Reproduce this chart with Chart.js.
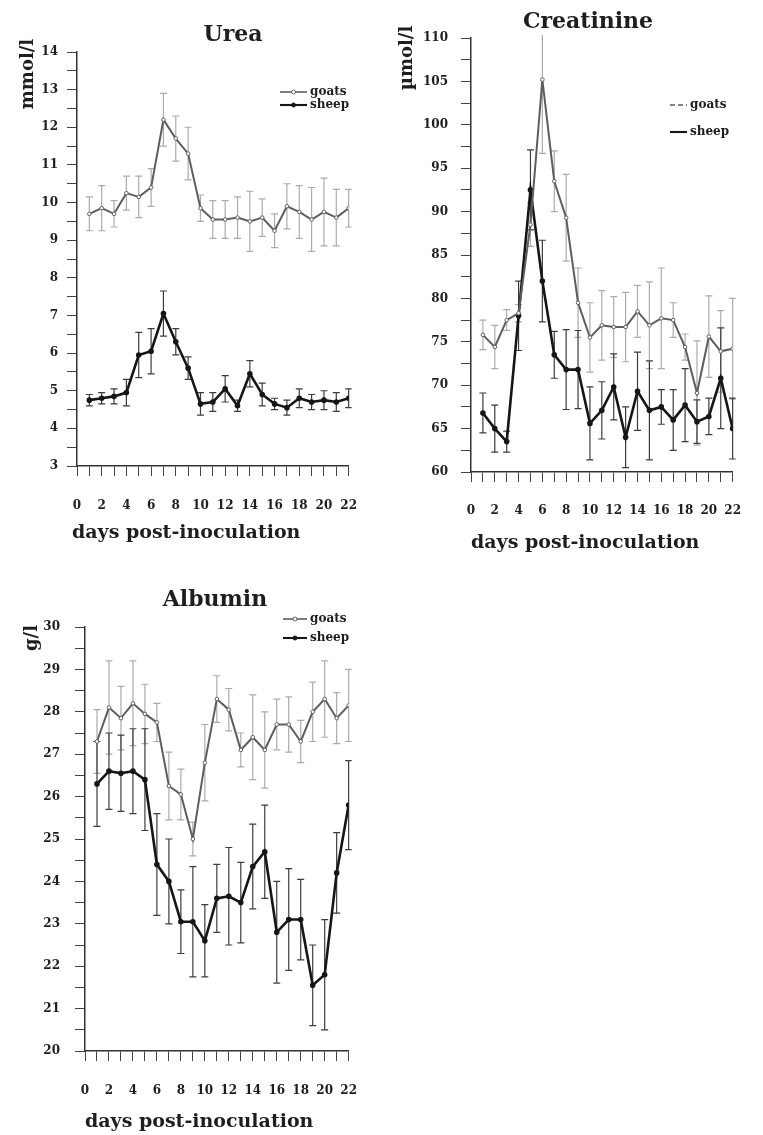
<!DOCTYPE html>
<html>
<head>
<meta charset="utf-8">
<script src="https://cdn.jsdelivr.net/npm/chart.js@4.4.0/dist/chart.umd.min.js"></script>
<style>
  html, body { margin: 0; padding: 0; background: #fff; }
  body { position: relative; width: 763px; height: 1135px; overflow: hidden; }
  canvas { position: absolute; }
</style>
</head>
<body>
<canvas id="urea" width="380" height="560" style="left:0px;top:0px"></canvas>
<canvas id="creat" width="383" height="560" style="left:380px;top:0px"></canvas>
<canvas id="alb" width="380" height="565" style="left:0px;top:570px"></canvas>
<script>
// days post-inoculation
const days = [1, 2, 3, 4, 5, 6, 7, 8, 9, 10, 11, 12, 13, 14, 15, 16, 17, 18, 19, 20, 21, 22];
const xTickLabels = ['0', '2', '4', '6', '8', '10', '12', '14', '16', '18', '20', '22'];

// Urea (mmol/l)
const ureaGoats = [9.7, 9.85, 9.7, 10.25, 10.15, 10.4, 12.2, 11.7, 11.3, 9.85, 9.55, 9.55, 9.6, 9.5, 9.6, 9.25, 9.9, 9.75, 9.55, 9.75, 9.6, 9.85];
const ureaGoatsErr = [0.45, 0.6, 0.35, 0.45, 0.55, 0.5, 0.7, 0.6, 0.7, 0.35, 0.5, 0.5, 0.55, 0.8, 0.5, 0.45, 0.6, 0.7, 0.85, 0.9, 0.75, 0.5];
const ureaSheep = [4.75, 4.8, 4.85, 4.95, 5.95, 6.05, 7.05, 6.3, 5.6, 4.65, 4.7, 5.05, 4.6, 5.45, 4.9, 4.65, 4.55, 4.8, 4.7, 4.75, 4.7, 4.8];
const ureaSheepErr = [0.15, 0.15, 0.2, 0.35, 0.6, 0.6, 0.6, 0.35, 0.3, 0.3, 0.25, 0.35, 0.15, 0.35, 0.3, 0.15, 0.2, 0.25, 0.2, 0.25, 0.25, 0.25];

// Creatinine (µmol/l)
const creatGoats = [75.8, 74.4, 77.5, 78.3, 88.5, 105.2, 93.5, 89.3, 79.5, 75.5, 76.9, 76.7, 76.7, 78.5, 76.9, 77.7, 77.5, 74.4, 69.1, 75.6, 73.9, 74.2];
const creatGoatsErr = [1.7, 2.5, 1.2, 1.0, 2.5, 8.5, 3.5, 5.0, 4.0, 4.0, 4.0, 3.5, 4.0, 3.0, 5.0, 5.8, 2.0, 1.5, 6.0, 4.7, 4.7, 5.8];
const creatSheep = [66.8, 65.0, 63.5, 78.0, 92.5, 82.0, 73.5, 71.8, 71.8, 65.6, 67.1, 69.8, 64.0, 69.3, 67.1, 67.5, 66.0, 67.7, 65.8, 66.4, 70.8, 65.0];
const creatSheepErr = [2.3, 2.7, 1.2, 4.0, 4.6, 4.7, 2.7, 4.6, 4.5, 4.2, 3.3, 3.8, 3.5, 4.5, 5.7, 2.0, 3.5, 4.2, 2.5, 2.1, 5.8, 3.5];

// Albumin (g/l)
const albGoats = [27.3, 28.1, 27.85, 28.2, 27.95, 27.75, 26.25, 26.05, 25.0, 26.8, 28.3, 28.05, 27.1, 27.4, 27.1, 27.7, 27.7, 27.3, 28.0, 28.3, 27.85, 28.15];
const albGoatsErr = [0.75, 1.1, 0.75, 1.0, 0.7, 0.45, 0.8, 0.6, 0.4, 0.9, 0.55, 0.5, 0.4, 1.0, 0.9, 0.6, 0.65, 0.5, 0.7, 0.9, 0.6, 0.85];
const albSheep = [26.3, 26.6, 26.55, 26.6, 26.4, 24.4, 24.0, 23.05, 23.05, 22.6, 23.6, 23.65, 23.5, 24.35, 24.7, 22.8, 23.1, 23.1, 21.55, 21.8, 24.2, 25.8];
const albSheepErr = [1.0, 0.9, 0.9, 1.0, 1.2, 1.2, 1.0, 0.75, 1.3, 0.85, 0.8, 1.15, 0.95, 1.0, 1.1, 1.2, 1.2, 0.95, 0.95, 1.3, 0.95, 1.05];

const FONT = 'DejaVu Serif';
const INK = '#1e1e1e';
const GOAT = '#5e5e5e';
const SHEEP = '#161616';

// vertical mean +/- error bars, drawn through the chart scales
const errorBars = {
    id: 'errorBars',
    beforeDatasetsDraw(chart) {
        const {ctx, chartArea, scales} = chart;
        ctx.save();
        ctx.beginPath();
        ctx.rect(chartArea.left, chartArea.top - 3, chartArea.width + 3, chartArea.height + 3);
        ctx.clip();
        chart.data.datasets.forEach(ds => {
            ctx.strokeStyle = ds.errorColor;
            ctx.lineWidth = 1.2;
            ds.data.forEach((p, i) => {
                const px = scales.x.getPixelForValue(p.x);
                const top = scales.y.getPixelForValue(p.y + ds.errors[i]);
                const bot = scales.y.getPixelForValue(p.y - ds.errors[i]);
                ctx.beginPath();
                ctx.moveTo(px, top); ctx.lineTo(px, bot);
                ctx.moveTo(px - 3.5, top); ctx.lineTo(px + 3.5, top);
                ctx.moveTo(px - 3.5, bot); ctx.lineTo(px + 3.5, bot);
                ctx.stroke();
            });
        });
        ctx.restore();
    }
};

// panel title, axis titles and small legend
const panelText = {
    id: 'panelText',
    afterDraw(chart, args, opts) {
        const ctx = chart.ctx;
        ctx.save();
        ctx.fillStyle = INK;
        ctx.textBaseline = 'middle';

        ctx.font = `bold ${opts.title.size}px "${FONT}"`;
        ctx.textAlign = 'center';
        ctx.fillText(opts.title.text, opts.title.x, opts.title.y);

        ctx.font = `bold 19px "${FONT}"`;
        ctx.textAlign = 'left';
        ctx.fillText('days post-inoculation', opts.xTitle.x, opts.xTitle.y);

        ctx.save();
        ctx.translate(opts.yTitle.x, opts.yTitle.y);
        ctx.rotate(-Math.PI / 2);
        ctx.textAlign = 'center';
        ctx.font = `bold 18px "${FONT}"`;
        ctx.fillText(opts.yTitle.text, 0, 0);
        ctx.restore();

        const lg = opts.legend;
        chart.data.datasets.forEach((ds, i) => {
            const y = lg.y[i];
            ctx.save();
            ctx.strokeStyle = ds.borderColor;
            ctx.lineWidth = ds.borderWidth * 0.8;
            if (lg.dashed && i === 0) ctx.setLineDash([5, 3]);
            ctx.beginPath();
            ctx.moveTo(lg.x0, y); ctx.lineTo(lg.x1, y);
            ctx.stroke();
            ctx.restore();
            if (lg.marker) {
                ctx.beginPath();
                ctx.arc((lg.x0 + lg.x1) / 2, y, 2, 0, Math.PI * 2);
                ctx.fillStyle = ds.pointBackgroundColor;
                ctx.fill();
                ctx.strokeStyle = ds.borderColor;
                ctx.lineWidth = 1;
                ctx.stroke();
            }
            ctx.fillStyle = INK;
            ctx.font = `bold 12px "${FONT}"`;
            ctx.textAlign = 'left';
            ctx.fillText(ds.label, lg.x1 + 3, y);
        });
        ctx.restore();
    }
};

function points(vals) {
    return days.map((d, i) => ({x: d, y: vals[i]}));
}

function makeChart(id, cfg) {
    const tickFont = {family: FONT, weight: 'bold', size: 12};
    return new Chart(document.getElementById(id), {
        type: 'line',
        data: {
            datasets: [{
                label: 'goats',
                data: points(cfg.goats),
                errors: cfg.goatsErr,
                errorColor: '#ababab',
                borderColor: GOAT,
                borderWidth: 2,
                pointRadius: 1.8,
                pointBackgroundColor: '#fff',
                pointBorderColor: GOAT,
                pointBorderWidth: 1,
                tension: 0
            }, {
                label: 'sheep',
                data: points(cfg.sheep),
                errors: cfg.sheepErr,
                errorColor: '#3c3c3c',
                borderColor: SHEEP,
                borderWidth: 2.6,
                pointRadius: 1.5,
                pointBackgroundColor: SHEEP,
                pointBorderColor: SHEEP,
                tension: 0
            }]
        },
        options: {
            responsive: false,
            animation: false,
            layout: {padding: cfg.padding},
            plugins: {
                legend: {display: false},
                tooltip: {enabled: false},
                panelText: cfg.text
            },
            scales: {
                x: {
                    type: 'linear',
                    min: 0,
                    max: 22,
                    afterFit: s => { s.height = cfg.xHeight; },
                    border: {display: true, color: '#333', width: 1.5},
                    grid: {drawOnChartArea: false, drawTicks: true, tickLength: 10, color: '#444'},
                    ticks: {
                        stepSize: 1,
                        autoSkip: false,
                        maxRotation: 0,
                        padding: cfg.xPad,
                        color: INK,
                        font: tickFont,
                        callback: v => (v % 2 === 0 ? xTickLabels[v / 2] : '')
                    }
                },
                y: {
                    min: cfg.yMin,
                    max: cfg.yMax,
                    afterFit: s => { s.width = cfg.yWidth; },
                    border: {display: true, color: '#333', width: 1.5},
                    grid: {drawOnChartArea: false, drawTicks: true, tickLength: 10, color: '#444'},
                    ticks: {
                        stepSize: cfg.yStep,
                        autoSkip: false,
                        padding: cfg.yPad,
                        color: INK,
                        font: tickFont,
                        callback: v => (Math.abs(v % cfg.yLabelEvery) < 1e-6 ? String(v) : '')
                    }
                }
            }
        },
        plugins: [errorBars, panelText]
    });
}

makeChart('urea', {
    goats: ureaGoats, goatsErr: ureaGoatsErr, sheep: ureaSheep, sheepErr: ureaSheepErr,
    yMin: 3, yMax: 14, yStep: 0.5, yLabelEvery: 1,
    padding: {left: 0, right: 14, top: 52, bottom: 0},
    yWidth: 77, xHeight: 94, xPad: 23, yPad: 9,
    text: {
        title: {text: 'Urea', x: 233, y: 35, size: 22},
        yTitle: {text: 'mmol/l', x: 28, y: 74},
        xTitle: {x: 72, y: 533},
        legend: {x0: 280, x1: 307, y: [92, 105], marker: true, dashed: false}
    }
});

makeChart('creat', {
    goats: creatGoats, goatsErr: creatGoatsErr, sheep: creatSheep, sheepErr: creatSheepErr,
    yMin: 60, yMax: 110, yStep: 2.5, yLabelEvery: 5,
    padding: {left: 0, right: 10, top: 38, bottom: 0},
    yWidth: 91, xHeight: 88, xPad: 22, yPad: 13,
    text: {
        title: {text: 'Creatinine', x: 208, y: 22, size: 22},
        yTitle: {text: 'µmol/l', x: 27, y: 58},
        xTitle: {x: 91, y: 543},
        legend: {x0: 290, x1: 307, y: [105, 132], marker: false, dashed: true}
    }
});

makeChart('alb', {
    goats: albGoats, goatsErr: albGoatsErr, sheep: albSheep, sheepErr: albSheepErr,
    yMin: 20, yMax: 30, yStep: 0.5, yLabelEvery: 1,
    padding: {left: 0, right: 22, top: 57, bottom: 0},
    yWidth: 85, xHeight: 84, xPad: 23, yPad: 15,
    text: {
        title: {text: 'Albumin', x: 215, y: 30, size: 22},
        yTitle: {text: 'g/l', x: 32, y: 68},
        xTitle: {x: 85, y: 552},
        legend: {x0: 283, x1: 307, y: [49, 68], marker: true, dashed: false}
    }
});
</script>
</body>
</html>
